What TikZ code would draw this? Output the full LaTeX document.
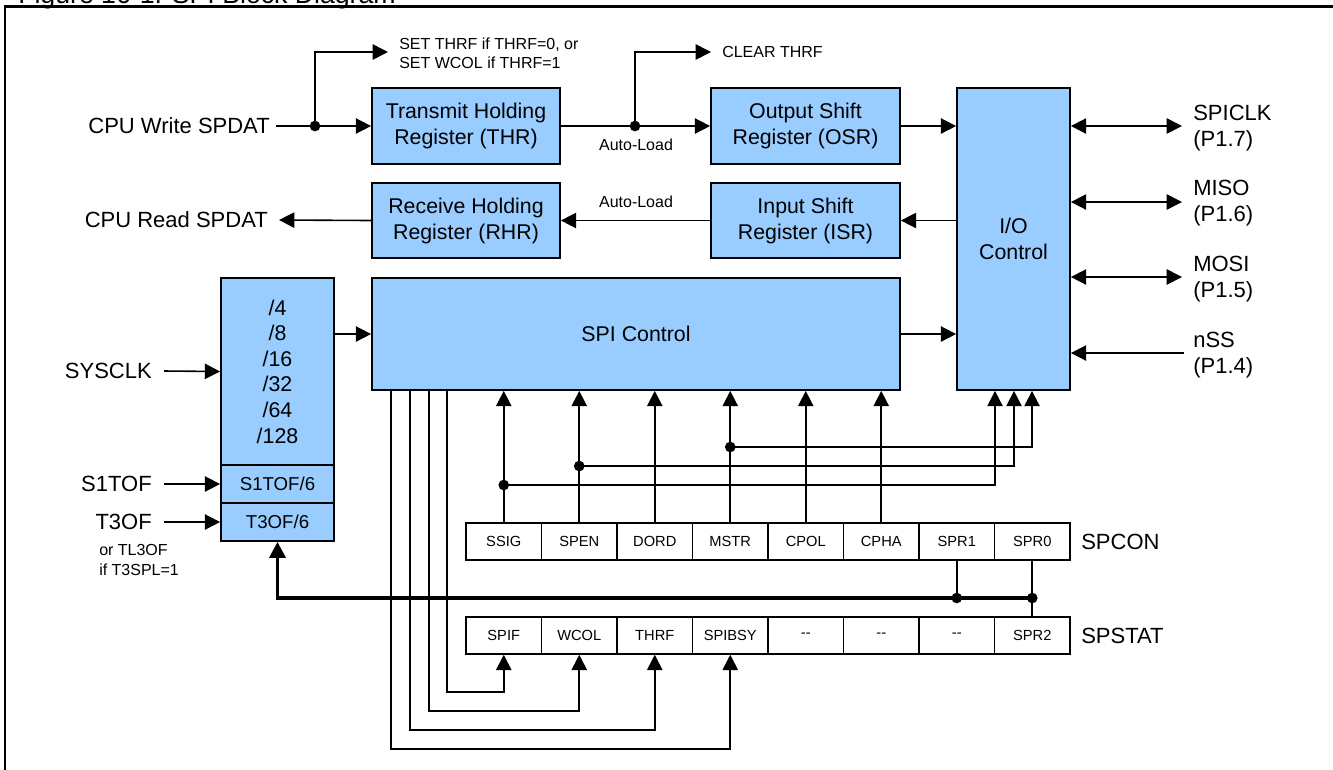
\documentclass[tikz,border=0pt]{standalone}
\usepackage{fontspec}
\setmainfont{Liberation Sans}
\usetikzlibrary{arrows.meta,calc}
\definecolor{bfill}{HTML}{99CCFF}
\begin{document}
\begin{tikzpicture}[x=0.75pt,y=-0.75pt,
  blkbox/.style={draw, fill=bfill, line width=1.3pt, align=center, inner sep=0pt, font=\fontsize{16}{19.5}\selectfont},
  regcell/.style={draw, fill=white, line width=1.1pt, minimum width=75.5*0.75pt, minimum height=37*0.75pt, inner sep=0pt, font=\fontsize{11}{13}\selectfont},
  ln/.style={line width=1.2pt},
  arr/.style={ln, -{Triangle[length=11.5pt,width=11.5pt]}},
  darr/.style={ln, {Triangle[length=11.5pt,width=11.5pt]}-{Triangle[length=11.5pt,width=11.5pt]}},
  busln/.style={line width=2.6pt, -{Triangle[length=12pt,width=12pt]}},
  jdot/.style={circle, fill, inner sep=0pt, minimum size=8pt},
  bigt/.style={font=\fontsize{16.5}{19.5}\selectfont, inner sep=0pt},
  smallt/.style={font=\fontsize{12}{14.4}\selectfont, inner sep=0pt}
]
\useasboundingbox (0,0) rectangle (1333,769);
\clip (0,0) rectangle (1333,769);

% title (cut off at top) and frame
\node[anchor=base west, font=\fontsize{20}{24}\selectfont, inner sep=0pt] (title) at (18,3) {Figure 16-1. SPI Block Diagram};
\draw[line width=1.7pt] (5,780) -- (5,6.5) -- (1345,6.5);

% main blocks
\node[blkbox, minimum width=188*0.75pt, minimum height=76*0.75pt] (thr) at (466,126) {Transmit Holding\\Register (THR)};
\node[blkbox, minimum width=189*0.75pt, minimum height=76*0.75pt] (osr) at (805.5,126) {Output Shift\\Register (OSR)};
\node[blkbox, minimum width=188*0.75pt, minimum height=75*0.75pt] (rhr) at (466,220.5) {Receive Holding\\Register (RHR)};
\node[blkbox, minimum width=189*0.75pt, minimum height=75*0.75pt] (isr) at (805.5,220.5) {Input Shift\\Register (ISR)};
\node[blkbox, minimum width=113*0.75pt, minimum height=302*0.75pt] (io) at (1013.5,239) {I/O\\Control};
\node[blkbox, minimum width=528*0.75pt, minimum height=112*0.75pt] (spi) at (636,334) {SPI Control};
\node[blkbox, minimum width=113*0.75pt, minimum height=187*0.75pt, font=\fontsize{16}{19.2}\selectfont] (div) at (277.5,371.5) {/4\\/8\\/16\\/32\\/64\\/128};
\node[blkbox, minimum width=113*0.75pt, minimum height=38*0.75pt, font=\fontsize{14}{16}\selectfont] (s1box) at (277.5,484) {S1TOF/6};
\node[blkbox, minimum width=113*0.75pt, minimum height=38*0.75pt, font=\fontsize{14}{16}\selectfont] (t3box) at (277.5,522) {T3OF/6};

% registers
\foreach \t [count=\i from 0] in {SSIG,SPEN,DORD,MSTR,CPOL,CPHA,SPR1,SPR0}
  \node[regcell] (c\i) at ({503.75+75.5*\i},541.5) {\t};
\foreach \t [count=\i from 0] in {SPIF,WCOL,THRF,SPIBSY,{-}{-},{-}{-},{-}{-},SPR2}
  \node[regcell] (st\i) at ({503.75+75.5*\i},635.5) {\t};
\node[bigt, anchor=west] (spcon) at (1081,541.5) {SPCON};
\node[bigt, anchor=west] (spstat) at (1081,635.5) {SPSTAT};

% left labels
\node[bigt, anchor=east, inner xsep=4.5pt] (cpuw) at (276,126) {CPU Write SPDAT};
\node[bigt, anchor=east, inner xsep=8.2pt] (cpur) at (279,220) {CPU Read SPDAT};
\node[bigt, anchor=east, inner xsep=9pt] (sysclk) at (164,371) {SYSCLK};
\node[bigt, anchor=east, inner xsep=9pt] (s1tof) at (164,484) {S1TOF};
\node[bigt, anchor=east, inner xsep=9pt] (t3of) at (164,522) {T3OF};
\node[smallt, anchor=west, align=left] (tl3) at (99,560) {or TL3OF\\if T3SPL=1};

% right labels
\node[bigt, anchor=west, align=left] (lclk) at (1193,128) {SPICLK\\(P1.7)};
\node[bigt, anchor=west, align=left] (lmiso) at (1193,203.5) {MISO\\(P1.6)};
\node[bigt, anchor=west, align=left] (lmosi) at (1193,279) {MOSI\\(P1.5)};
\node[bigt, anchor=west, align=left] (lnss) at (1193,355) {nSS\\(P1.4)};
\coordinate (pclk) at (1182,126);
\coordinate (pmiso) at (1182,202);
\coordinate (pmosi) at (1182,277);
\coordinate (pnss) at (1184,353);
\draw[darr] (io.east |- pclk) -- (pclk);
\draw[darr] (io.east |- pmiso) -- (pmiso);
\draw[darr] (io.east |- pmosi) -- (pmosi);
\draw[arr] (pnss) -- (io.east |- pnss);

% top data path
\node[jdot] (dw) at (315,126) {};
\draw[ln] (cpuw.east) -- (dw.center);
\draw[arr] (dw.center) -- (thr.west);
\coordinate (tset) at (388,52);
\draw[arr] (dw.center) |- (tset);
\node[smallt, anchor=west, align=left] (setlbl) at (399,53) {SET THRF if THRF=0, or\\SET WCOL if THRF=1};
\node[jdot] (da) at (635,126) {};
\draw[ln] (thr.east) -- (da.center);
\draw[arr] (da.center) -- (osr.west);
\coordinate (tclr) at (711,52);
\draw[arr] (da.center) |- (tclr);
\node[smallt, anchor=west] (clr) at (722,52) {CLEAR THRF};
\node[smallt] (al1) at (636,145) {Auto-Load};
\node[smallt] (al2) at (636,202) {Auto-Load};

\draw[arr] (osr.east) -- (io.west |- osr.east);
\draw[arr] (io.west |- isr.east) -- (isr.east);
\draw[arr] (isr.west) -- (rhr.east);
\draw[arr] (rhr.west) -- (cpur.east);
\draw[arr] (spi.east) -- (io.west |- spi.east);
\draw[arr] (div.east |- spi.west) -- (spi.west);

% clock inputs
\draw[arr] (sysclk.east) -- (div.west);
\draw[arr] (s1tof.east) -- (s1box.west);
\draw[arr] (t3of.east) -- (t3box.west);

% SPCON bits into SPI Control
\foreach \i in {0,...,5}
  \draw[arr] (c\i.north) -- (c\i |- spi.south);

% SSIG, SPEN, MSTR into I/O Control
\coordinate (ya) at (0,447);
\coordinate (yb) at (0,466);
\coordinate (yc) at (0,485);
\coordinate (xa) at (1032,0);
\coordinate (xb) at (1014,0);
\coordinate (xc) at (995,0);
\node[jdot] (dm) at (c3 |- ya) {};
\node[jdot] (de) at (c1 |- yb) {};
\node[jdot] (ds) at (c0 |- yc) {};
\draw[arr] (dm.center) -| (xa |- io.south);
\draw[arr] (de.center) -| (xb |- io.south);
\draw[arr] (ds.center) -| (xc |- io.south);

% SPR bus to clock divider
\coordinate (ybus) at (0,598);
\node[jdot] (b1) at (c6 |- ybus) {};
\node[jdot] (b0) at (c7 |- ybus) {};
\draw[ln] (c6.south) -- (b1.center);
\draw[ln] (c7.south) -- (st7.north);
\draw[busln] (b0.center) -| (t3box.south);

% SPI Control to SPSTAT flags
\coordinate (va) at (447,0);
\coordinate (vb) at (429,0);
\coordinate (vc) at (410,0);
\coordinate (vd) at (391,0);
\coordinate (ha) at (0,692);
\coordinate (hb) at (0,711);
\coordinate (hc) at (0,730);
\coordinate (hd) at (0,749);
\draw[arr] (va |- spi.south) |- (ha -| st0) -- (st0.south);
\draw[arr] (vb |- spi.south) |- (hb -| st1) -- (st1.south);
\draw[arr] (vc |- spi.south) |- (hc -| st2) -- (st2.south);
\draw[arr] (vd |- spi.south) |- (hd -| st3) -- (st3.south);
\end{tikzpicture}
\end{document}
